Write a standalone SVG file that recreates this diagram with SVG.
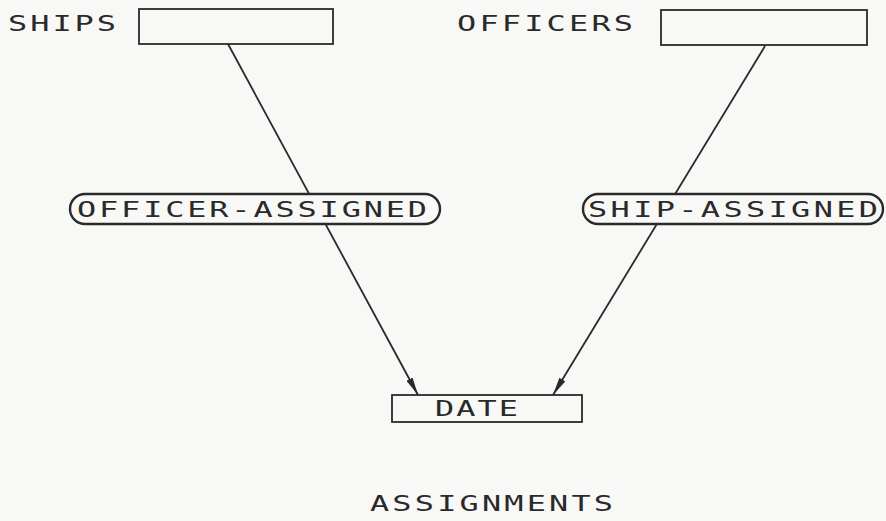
<svg xmlns="http://www.w3.org/2000/svg" width="886" height="521" viewBox="0 0 886 521">
  <style>
    .box { fill: #f8f8f6; stroke: #2a2a2a; stroke-width: 1.8; }
    .pill { fill: #f8f8f6; stroke: #2a2a2a; stroke-width: 2.4; }
    .lbl { font-family: "DejaVu Sans Mono", "Liberation Mono", monospace; font-size: 22px; fill: #2a2a2a; }
    .edge { stroke: #2a2a2a; stroke-width: 1.8; fill: none; }
  </style>
  <defs>
    <marker id="head" viewBox="0 0 18 7" refX="18" refY="3.5" markerWidth="18" markerHeight="7" markerUnits="userSpaceOnUse" orient="auto">
      <path d="M0,0 L18,3.5 L0,7 Z" fill="#2a2a2a"/>
    </marker>
  </defs>
  <rect width="886" height="521" fill="#f8f8f6"/>

  <g id="connectors">
    <line class="edge" x1="228" y1="44" x2="418" y2="395" marker-end="url(#head)"/>
    <line class="edge" x1="765" y1="46" x2="553" y2="395" marker-end="url(#head)"/>
  </g>

  <!-- labels are stretched horizontally to a wide plotter-style lettering -->
  <g id="ships">
    <g transform="translate(8,31) scale(1.45,1)"><text class="lbl" x="0" y="0" textLength="74.5" lengthAdjust="spacing">SHIPS</text></g>
    <rect class="box" x="139" y="9" width="194" height="35"/>
  </g>

  <g id="officers">
    <g transform="translate(457,31) scale(1.45,1)"><text class="lbl" x="0" y="0" textLength="121.4" lengthAdjust="spacing">OFFICERS</text></g>
    <rect class="box" x="661" y="10" width="206" height="35"/>
  </g>

  <g id="officer-assigned">
    <rect class="pill" x="70" y="194" width="370" height="30" rx="15"/>
    <g transform="translate(77,217) scale(1.45,1)"><text class="lbl" x="0" y="0" textLength="241.4" lengthAdjust="spacing">OFFICER-ASSIGNED</text></g>
  </g>

  <g id="ship-assigned">
    <rect class="pill" x="583" y="194" width="300" height="30" rx="15"/>
    <g transform="translate(588,217) scale(1.45,1)"><text class="lbl" x="0" y="0" textLength="200" lengthAdjust="spacing">SHIP-ASSIGNED</text></g>
  </g>

  <g id="date">
    <rect class="box" x="392" y="395" width="190" height="27"/>
    <g transform="translate(435,416) scale(1.45,1)"><text class="lbl" x="0" y="0" textLength="57.2" lengthAdjust="spacing">DATE</text></g>
  </g>

  <g id="assignments">
    <g transform="translate(370,511) scale(1.45,1)"><text class="lbl" x="0" y="0" textLength="167.6" lengthAdjust="spacing">ASSIGNMENTS</text></g>
  </g>
</svg>
